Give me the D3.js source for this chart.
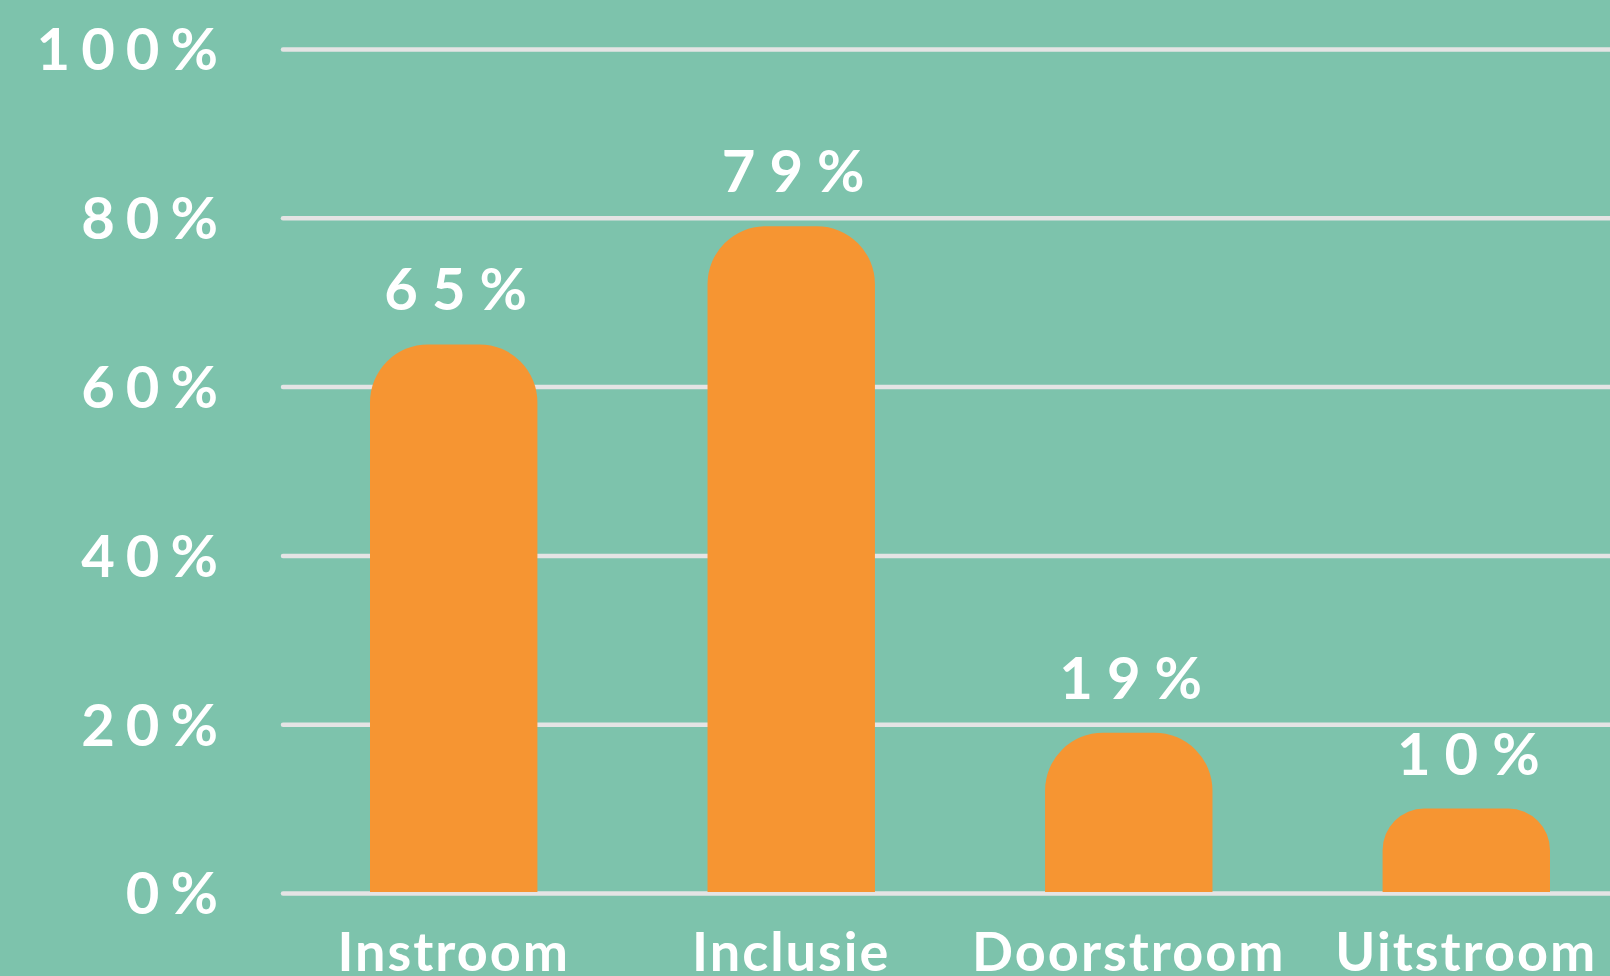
<!DOCTYPE html>
<html>
<head>
<meta charset="utf-8">
<script src="https://cdn.jsdelivr.net/npm/d3@7"></script>
<style>
  html, body { margin: 0; padding: 0; background: #7dc3ac; }
  svg { display: block; }
  text { font-family: Lato, "Open Sans", sans-serif; font-weight: 700; fill: #fff; }
</style>
</head>
<body>
<svg id="chart" width="1610" height="976"></svg>
<script>
const categories = ['Instroom', 'Inclusie', 'Doorstroom', 'Uitstroom'];
const values = [65, 79, 19, 10];
const yTicks = [0, 20, 40, 60, 80, 100];

const width = 1610;
const height = 976;
const gridLeft = 283;

const svg = d3.select('#chart');

svg.append('rect')
  .attr('width', width)
  .attr('height', height)
  .attr('fill', '#7dc3ac');

const x = d3.scaleBand()
  .domain(categories)
  .range([370, 1550])
  .paddingInner(0.504)
  .paddingOuter(0);

const y = d3.scaleLinear()
  .domain([0, 100])
  .range([893, 49]);

// gridlines + y labels
const yAxis = g => g
  .attr('transform', `translate(${gridLeft},0)`)
  .call(d3.axisLeft(y)
    .tickValues(yTicks)
    .tickFormat(d => d + '%')
    .tickSizeInner(-(width - gridLeft + 10))
    .tickSizeOuter(0)
    .tickPadding(54))
  .call(g => g.select('.domain').remove())
  .call(g => g.selectAll('.tick line')
    .attr('stroke', '#e4e4e4')
    .attr('stroke-width', 4.5)
    .attr('stroke-linecap', 'round'))
  .call(g => g.selectAll('.tick text')
    .attr('fill', '#fff')
    .attr('font-size', 58)
    .attr('font-family', 'Lato, sans-serif')
    .attr('font-weight', 700)
    .attr('letter-spacing', 11)
    .attr('dy', '0.36em'));

svg.append('g').call(yAxis);

// bar with rounded top corners
function topRounded(x0, y0, w, h, r) {
  r = Math.min(r, w / 2, h / 2);
  const p = d3.path();
  p.moveTo(x0, y0 + h);
  p.lineTo(x0, y0 + r);
  p.arcTo(x0, y0, x0 + r, y0, r);
  p.lineTo(x0 + w - r, y0);
  p.arcTo(x0 + w, y0, x0 + w, y0 + r, r);
  p.lineTo(x0 + w, y0 + h);
  p.closePath();
  return p.toString();
}

const data = categories.map((c, i) => ({name: c, value: values[i]}));

svg.append('g')
  .selectAll('path')
  .data(data)
  .join('path')
    .attr('fill', '#f69532')
    .attr('d', d => topRounded(x(d.name), y(d.value), x.bandwidth(), y(0) - y(d.value) - 1, 58));

// value labels
svg.append('g')
  .selectAll('text')
  .data(data)
  .join('text')
    .attr('x', d => x(d.name) + x.bandwidth() / 2 + 9)
    .attr('y', d => y(d.value) - 34)
    .attr('text-anchor', 'middle')
    .attr('font-size', 58)
    .attr('letter-spacing', 14)
    .text(d => d.value + '%');

// category labels
const xAxis = g => g
  .attr('transform', `translate(0,${y(0)})`)
  .call(d3.axisBottom(x).tickSize(0).tickPadding(40))
  .call(g => g.select('.domain').remove())
  .call(g => g.selectAll('.tick text')
    .attr('fill', '#fff')
    .attr('font-size', 54)
    .attr('font-family', 'Lato, sans-serif')
    .attr('font-weight', 700)
    .attr('letter-spacing', 2)
    .attr('dy', '0.71em'));

svg.append('g').call(xAxis);
</script>
</body>
</html>
